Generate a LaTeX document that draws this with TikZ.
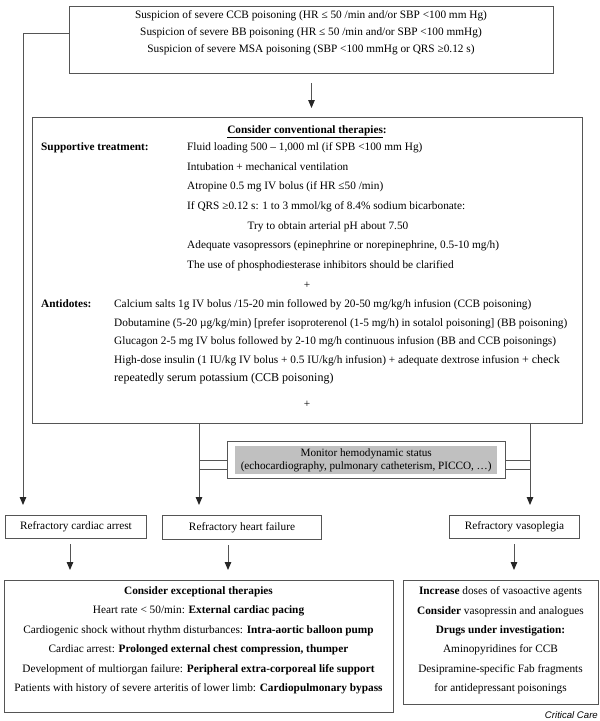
\documentclass[tikz,border=0pt]{standalone}
\usepackage{fontspec}
\setmainfont{Liberation Serif}
\setsansfont{Liberation Sans}
\usetikzlibrary{positioning}
\usetikzlibrary{arrows.meta}

\definecolor{linegrey}{HTML}{555555}
\definecolor{monitorgrey}{HTML}{C0C0C0}

\begin{document}
\begin{tikzpicture}[x=1pt,y=-1pt,
  box/.style={draw=linegrey,line width=1pt,inner sep=0pt,anchor=north west},
  txt/.style={inner sep=0pt,text height=8pt,text depth=2.5pt,font=\fontsize{11.3}{13}\selectfont},
  ltxt/.style={txt,anchor=west},
  para/.style={inner sep=0pt,align=center,font=\fontsize{11.3}{19.4}\selectfont},
  arr/.style={draw=linegrey,line width=1pt,-{Triangle[width=6.5pt,length=8pt,color=black!85]}},
  link/.style={draw=linegrey,line width=1pt}]
 \useasboundingbox (0,0) rectangle (600,721);

 % boxes
 \node[box,minimum width=484pt,minimum height=67pt] (suspicion) at (69,6) {};
 \node[box,minimum width=550pt,minimum height=306pt] (conventional) at (32,117) {};
 \node[box,minimum width=278pt,minimum height=37pt] (monitor) at (227,441) {};
 \node[anchor=north west,fill=monitorgrey,inner sep=0pt,minimum width=262pt,minimum height=28pt] (monitorfill) at (235,446) {};
 \node[box,txt,minimum width=141pt,minimum height=23pt] (arrest) at (5,515) {Refractory cardiac arrest};
 \node[box,txt,minimum width=159pt,minimum height=24pt] (failure) at (162,515) {Refractory heart failure};
 \node[box,txt,minimum width=130pt,minimum height=23pt] (vaso) at (449,515) {Refractory vasoplegia};
 \node[box,minimum width=389pt,minimum height=132pt] (exceptional) at (4,580) {};
 \node[box,minimum width=195pt,minimum height=124pt] (vasoactive) at (403,580) {};

 % top box
 \node[txt] (ccb) at (311,16) {Suspicion of severe CCB poisoning (HR ≤ 50 /min and/or SBP <100 mm Hg)};
 \node[txt] (bb) at (311,33) {Suspicion of severe BB poisoning (HR ≤ 50 /min and/or SBP <100 mmHg)};
 \node[txt] (msa) at (311,50) {Suspicion of severe MSA poisoning (SBP <100 mmHg or QRS ≥0.12 s)};

 % conventional therapies
 \node[txt] (convtitle) at (307,130.5) {\underline{\textbf{Consider conventional therapies}}\textbf{:}};
 \node[ltxt] (supportive) at (41,148) {\textbf{Supportive treatment:}};
 \node[ltxt] (fluid) at (187,148) {Fluid loading 500 – 1,000 ml (if SPB <100 mm Hg)};
 \node[ltxt] (intubation) at (187,167.6) {Intubation + mechanical ventilation};
 \node[ltxt] (atropine) at (187,187.2) {Atropine 0.5 mg IV bolus (if HR ≤50 /min)};
 \node[ltxt] (bicarb) at (187,206.8) {If QRS ≥0.12 s: 1 to 3 mmol/kg of 8.4\% sodium bicarbonate:};
 \node[txt] (ph) at (328,226.4) {Try to obtain arterial pH about 7.50};
 \node[ltxt] (pressors) at (187,246) {Adequate vasopressors (epinephrine or norepinephrine, 0.5-10 mg/h)};
 \node[ltxt] (pde) at (187,265.6) {The use of phosphodiesterase inhibitors should be clarified};
 \node[txt] (plusA) at (307,285.3) {+};
 \node[ltxt] (antidotes) at (41,305) {\textbf{Antidotes:}};
 \node[ltxt] (calcium) at (114,305) {Calcium salts 1g IV bolus /15-20 min followed by 20-50 mg/kg/h infusion (CCB poisoning)};
 \node[ltxt] (dobutamine) at (114,323.5) {Dobutamine (5-20 µg/kg/min) [prefer isoproterenol (1-5 mg/h) in sotalol poisoning] (BB poisoning)};
 \node[ltxt] (glucagon) at (114,342) {Glucagon 2-5 mg IV bolus followed by 2-10 mg/h continuous infusion (BB and CCB poisonings)};
 \node[ltxt] (insulin) at (114,360.5) {High-dose insulin (1 IU/kg IV bolus + 0.5 IU/kg/h infusion) + adequate dextrose infusion {\fontsize{12}{13}\selectfont + check}};
 \node[ltxt] (potassium) at (114,379) {\fontsize{12}{13}\selectfont repeatedly serum potassium (CCB poisoning)};
 \node[txt] (plusB) at (307,404.5) {+};

 % monitoring
 \node[inner sep=0pt,align=center,font=\fontsize{11.2}{13.5}\selectfont] (monitortext) at (monitorfill) {Monitor hemodynamic status\\(echocardiography, pulmonary catheterism, PICCO, …)};

 % exceptional and vasoactive
 \node[para,anchor=north] (exceptext) at (198.5,586.5) {\textbf{Consider exceptional therapies}\\
  Heart rate < 50/min: \textbf{External cardiac pacing}\\
  Cardiogenic shock without rhythm disturbances: \textbf{Intra-aortic balloon pump}\\
  Cardiac arrest: \textbf{Prolonged external chest compression, thumper}\\
  Development of multiorgan failure: \textbf{Peripheral extra-corporeal life support}\\
  Patients with history of severe arteritis of lower limb: \textbf{Cardiopulmonary bypass}};
 \node[para,anchor=north] (vasotext) at (500.5,586.5) {\textbf{Increase} doses of vasoactive agents\\
  \textbf{Consider} vasopressin and analogues\\
  \textbf{Drugs under investigation:}\\
  Aminopyridines for CCB\\
  Desipramine-specific Fab fragments\\
  for antidepressant poisonings};
 \node[anchor=south east,inner sep=0pt,font=\sffamily\itshape\fontsize{9.6}{12}\selectfont] (source) at (598,719) {Critical Care};

 % connectors
 \coordinate (bendL) at (23,33);
 \coordinate (tapL) at (199,423);
 \coordinate (tapR) at (530,423);
 \draw[arr,shorten >=10pt] (bendL -| suspicion.west) -- (bendL) -- (bendL |- arrest.north);
 \draw[arr,shorten <=9pt,shorten >=9pt] (suspicion.south) -- (suspicion.south |- conventional.north);
 \draw[arr,shorten >=10pt] (tapL) -- (tapL |- failure.north);
 \draw[arr,shorten >=10pt] (tapR) -- (tapR |- vaso.north);
 \draw[link] (tapL |- 0,460) -- (monitor.west |- 0,460);
 \draw[link] (tapL |- 0,469) -- (monitor.west |- 0,469);
 \draw[link] (monitor.east |- 0,460) -- (tapR |- 0,460);
 \draw[link] (monitor.east |- 0,469) -- (tapR |- 0,469);
 \draw[arr,shorten <=5pt,shorten >=10pt] (70,0 |- arrest.south) -- (70,0 |- exceptional.north);
 \draw[arr,shorten <=5pt,shorten >=10pt] (228,0 |- failure.south) -- (228,0 |- exceptional.north);
 \draw[arr,shorten <=5pt,shorten >=10pt] (514,0 |- vaso.south) -- (514,0 |- vasoactive.north);
\end{tikzpicture}
\end{document}
